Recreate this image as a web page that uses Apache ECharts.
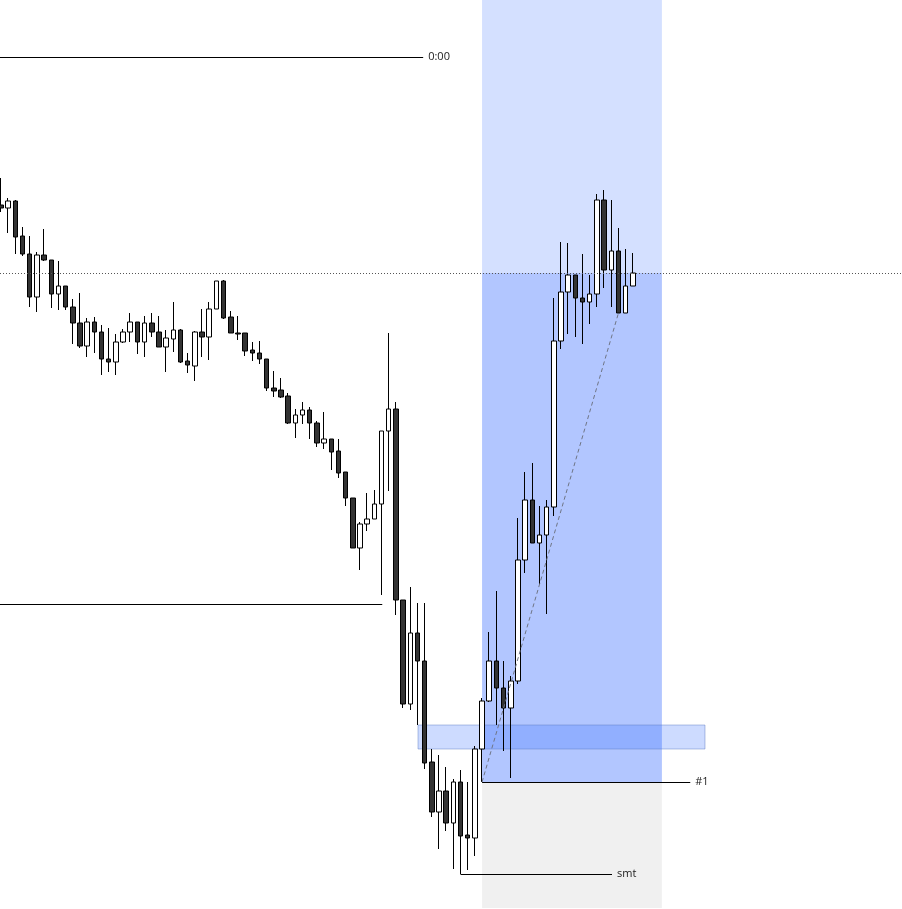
<!DOCTYPE html>
<html>
<head>
<meta charset="utf-8">
<script src="https://cdn.jsdelivr.net/npm/echarts@6/dist/echarts.min.js"></script>
<style>
html,body{margin:0;padding:0;background:#fff;}
#chart{width:902px;height:909px;}
</style>
</head>
<body>
<div id="chart"></div>
<script>
// Candle values (price points)
const opens  = [795,792,799,764,746,703,745,740,706,714,693,677,654,678,668,641,638,658,668,678,658,677,668,653,661,670,639,634,668,663,691,719,683,667,667,650,647,641,612,610,604,577,585,590,577,557,561,549,528,502,452,476,481,496,569,591,400,296,367,339,238,188,209,177,218,165,162,251,299,339,312,292,319,440,500,457,465,493,659,708,725,702,698,706,800,730,749,687,714];
const closes = [792,799,763,746,703,745,740,706,714,693,677,654,678,668,641,638,658,668,678,658,677,668,653,662,670,638,635,668,663,691,719,682,667,666,649,647,641,612,609,603,577,585,590,577,557,561,548,527,502,452,476,481,496,569,591,400,296,367,339,237,188,209,177,218,164,162,251,299,339,312,292,319,440,500,457,465,493,659,708,725,702,698,706,800,730,749,687,714,727];
const lows   = [788,767,746,744,693,688,739,692,690,690,656,652,643,647,625,628,625,657,658,646,643,663,653,628,648,637,627,619,643,640,691,681,667,660,644,639,636,609,603,602,576,562,576,561,553,551,530,522,494,452,430,469,481,405,509,385,292,290,275,231,183,151,169,131,126,130,144,218,298,275,249,222,316,427,457,416,386,484,651,666,663,656,676,693,712,693,687,687,714];
const highs  = [822,802,800,773,764,748,771,740,739,714,701,707,682,683,675,672,666,671,687,678,684,687,684,670,698,671,647,669,691,698,719,720,689,684,667,658,659,641,629,622,607,591,598,593,579,588,561,561,528,502,478,507,510,569,667,598,400,413,397,397,251,245,233,221,230,218,254,302,368,409,339,324,482,528,537,494,500,702,758,757,725,746,725,806,810,800,772,751,747];

// Levels and annotations (price points / bar index)
const levelNames = ['0:00', '#1', 'smt'];
const levelPrices = [943, 218, 126];
const prevLow = 396;          // horizontal level left of the drop
const dottedPrice = 727;      // dotted reference level
const boxTop = 1000, boxMid = 727, boxEntry = 218, boxBottom = 92;
const zoneTop = 275, zoneBottom = 251;

const xMin = -0.14, xMax = 125.49;
const yMin = 91, yMax = 1000;

const candles = opens.map((o, i) => [i, o, closes[i], lows[i], highs[i]]);

const chart = echarts.init(document.getElementById('chart'), null, {renderer: 'canvas'});
const lbl = (t) => ({show: true, position: 'end', formatter: t, color: '#222', fontSize: 11, fontFamily: 'Open Sans, sans-serif', distance: 5});
const solid = {color: '#000', width: 1, type: 'solid'};

chart.setOption({
  animation: false,
  backgroundColor: '#ffffff',
  grid: {left: 0, right: 0, top: 0, bottom: 0},
  xAxis: {type: 'value', min: xMin, max: xMax, show: false, splitLine: {show: false}},
  yAxis: {type: 'value', min: yMin, max: yMax, show: false, splitLine: {show: false}},
  series: [{
    type: 'candlestick',
    data: candles,
    encode: {x: 0, y: [1, 2, 3, 4]},
    barWidth: 5,
    itemStyle: {color: '#ffffff', color0: '#333333', borderColor: '#000000', borderColor0: '#000000', borderWidth: 1},
    markArea: {
      silent: true,
      label: {show: false},
      data: [
        [{coord: [67, boxTop], itemStyle: {color: 'rgba(41,98,255,0.2)'}}, {coord: [92.05, boxMid]}],
        [{coord: [67, boxMid], itemStyle: {color: 'rgba(41,98,255,0.36)'}}, {coord: [92.05, boxEntry]}],
        [{coord: [67, boxEntry], itemStyle: {color: 'rgba(0,0,0,0.06)'}}, {coord: [92.05, boxBottom]}],
        [{coord: [58.08, zoneTop], itemStyle: {color: 'rgba(41,98,255,0.23)', borderColor: 'rgba(90,120,190,0.45)', borderWidth: 1}}, {coord: [98.05, zoneBottom]}]
      ]
    },
    markLine: {
      silent: true,
      symbol: ['none', 'none'],
      animation: false,
      data: [
        [{coord: [xMin, levelPrices[0]], lineStyle: solid, label: lbl(levelNames[0])}, {coord: [58.8, levelPrices[0]]}],
        [{coord: [67, levelPrices[1]], lineStyle: solid, label: lbl(levelNames[1])}, {coord: [96, levelPrices[1]]}],
        [{coord: [64, levelPrices[2]], lineStyle: solid, label: lbl(levelNames[2])}, {coord: [85.1, levelPrices[2]]}],
        [{coord: [xMin, prevLow], lineStyle: solid, label: {show: false}}, {coord: [53.1, prevLow]}],
        [{coord: [xMin, dottedPrice], lineStyle: {color: '#555', width: 1, type: [1, 2]}, label: {show: false}}, {coord: [xMax, dottedPrice]}],
        [{coord: [67, lows[67]], lineStyle: {color: '#6f7585', width: 1, type: [4, 3]}, label: {show: false}}, {coord: [86, lows[86]]}]
      ]
    }
  }]
});
</script>
</body>
</html>
